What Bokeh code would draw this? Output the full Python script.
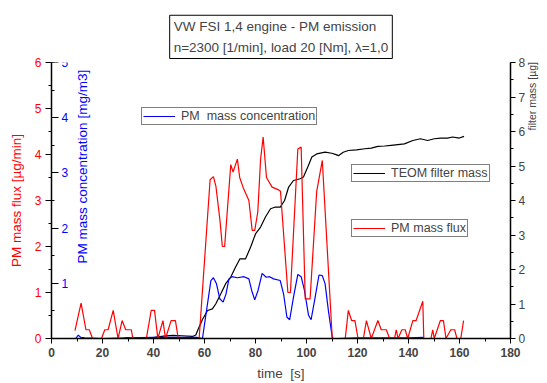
import math
from bokeh.plotting import figure
from bokeh.models import Range1d, LinearAxis, Legend, LegendItem, SingleIntervalTicker, Label
from bokeh.embed import file_html
from bokeh.resources import INLINE

# ---- data ----
t_flux = [9.2, 11.6, 13.5, 14.8, 16.1, 19.6, 20.9, 22.2, 24.2, 26.1, 27.7, 29.1, 31.3, 31.9,
          37.2, 39.1, 40.4, 41.7, 43.7, 44.7, 46.9, 48.6, 49.7, 57.9, 62.2, 63.5, 64.5, 66.0,
          67.0, 67.9, 70.3, 71.2, 72.9, 73.8, 75.1, 77.4, 78.7, 79.7, 80.9, 82.0, 83.0, 84.3,
          86.5, 89.1, 89.8, 92.7, 93.7, 96.6, 97.9, 99.5, 101.4, 104.0, 106.2, 110.1, 115.2,
          116.4, 117.7, 119.0, 120.2, 122.3, 123.5, 125.4, 128.0, 129.3, 131.3, 132.6, 134.5,
          135.2, 135.9, 137.4, 138.7, 139.7, 141.7, 143.0, 145.6, 146.0, 148.8, 149.5, 150.1,
          152.5, 153.7, 154.7, 156.6, 158.1, 159.0, 160.5, 161.6]
flux = [0.17, 0.77, 0.19, 0.19, 0.0, 0.0, 0.19, 0.19, 0.61, 0.0, 0.39, 0.19, 0.19, 0.0,
        0.0, 0.61, 0.61, 0.0, 0.39, 0.0, 0.39, 0.39, 0.0, 0.0, 3.45, 3.52, 3.3, 2.6,
        2.0, 2.0, 3.78, 3.62, 3.9, 3.5, 3.29, 3.0, 2.35, 2.35, 2.75, 3.9, 4.38, 3.5,
        3.29, 3.23, 3.2, 1.0, 1.0, 4.12, 4.16, 0.86, 0.86, 3.2, 3.87, 0.0, 0.0,
        0.61, 0.39, 0.39, 0.0, 0.0, 0.39, 0.0, 0.39, 0.19, 0.19, 0.0, 0.0,
        0.19, 0.0, 0.19, 0.19, 0.0, 0.39, 0.39, 0.81, 0.0, 0.0, 0.19, 0.0,
        0.39, 0.39, 0.0, 0.19, 0.19, 0.0, 0.0, 0.39]

t_conc = [9.5, 10.5, 11.5, 13.0, 20.0, 30.0, 40.0, 50.0, 57.0, 59.2, 62.5, 63.5, 64.7, 66.0,
          67.3, 68.4, 69.6, 70.7, 72.9, 75.5, 77.4, 78.5, 79.7, 81.0, 82.6, 84.2, 85.5, 87.1,
          89.7, 91.0, 92.3, 93.4, 94.9, 96.6, 97.9, 99.2, 100.8, 101.8, 103.4, 104.9, 106.2,
          107.3, 108.6, 110.1, 111.0, 112.0, 120.0, 130.0, 140.0, 146.0]
conc = [0.0, 0.06, 0.02, 0.01, 0.0, 0.01, 0.02, 0.02, 0.02, 0.0, 1.05, 1.1, 0.99, 0.72,
        0.66, 0.8, 1.08, 1.12, 1.1, 1.12, 1.08, 0.87, 0.7, 0.87, 1.18, 1.11, 1.12, 1.08,
        1.05, 0.81, 0.39, 0.34, 0.75, 1.16, 1.12, 0.87, 0.42, 0.34, 0.75, 1.15, 1.14,
        0.99, 0.5, 0.02, -0.02, 0.0, 0.01, 0.01, 0.01, 0.02]

t_mass = [9.2, 12.5, 16.0, 19.6, 22.0, 25.5, 29.8, 33.3, 38.0, 41.0, 44.0, 47.5, 51.0, 55.3,
          56.6, 57.3, 59.2, 61.2, 63.1, 64.4, 66.4, 68.3, 70.3, 72.2, 73.9, 76.1, 78.1, 80.0,
          82.0, 83.9, 85.9, 87.8, 89.7, 91.4, 93.0, 94.9, 97.5, 98.8, 100.5, 102.1, 104.0,
          107.3, 109.9, 111.6, 112.5, 114.4, 116.4, 119.6, 122.9, 125.4, 128.0, 130.6, 133.2,
          135.8, 138.4, 141.7, 144.7, 147.5, 150.1, 152.7, 155.3, 157.3, 159.9, 161.8]
mass = [-0.05, -0.03, -0.08, -0.12, -0.1, -0.05, 0.03, -0.04, 0.0, 0.04, 0.07, 0.09, 0.08, 0.06,
        0.1, 0.23, 0.55, 0.81, 0.86, 1.0, 1.3, 1.59, 1.78, 2.07, 2.31, 2.31, 2.65, 3.03,
        3.23, 3.52, 3.76, 3.81, 3.81, 4.0, 4.39, 4.58, 4.63, 4.68, 4.97, 5.26, 5.35,
        5.4, 5.37, 5.33, 5.3, 5.4, 5.45, 5.47, 5.5, 5.52, 5.57, 5.58, 5.6,
        5.62, 5.64, 5.74, 5.79, 5.74, 5.79, 5.81, 5.81, 5.84, 5.81, 5.86]

title_text = "VW FSI 1,4 engine - PM emission\nn=2300 [1/min], load 20 [Nm], \u03bb=1,0"
label_flux = "PM mass flux"
label_conc = "PM  mass concentration"
label_mass = "TEOM filter mass"
title_flux = "PM mass flux [\u00b5g/min]"
title_conc = "PM mass concentration [mg/m3]"
title_mass = "filter mass [\u00b5g]"
title_time = "time\u00a0 [s]"

FONT = "Liberation Sans"
NB = "\u00a0"

p = figure(width=547, height=383, output_backend="svg", toolbar_location=None,
           x_range=Range1d(0, 180), y_range=Range1d(0, 6),
           min_border_left=51, min_border_right=34, min_border_top=62, min_border_bottom=45,
           title=title_text)
p.extra_y_ranges = {"conc": Range1d(0, 5), "mass": Range1d(0, 8)}
p.grid.visible = False
p.outline_line_color = None

# title box
p.title.align = "center"
p.title.text_font = FONT
p.title.text_font_size = "13.5px"
p.title.text_font_style = "normal"
p.title.text_line_height = 1.35
p.title.border_line_color = "black"
p.title.border_line_width = 1
p.title.background_fill_color = "white"
p.title.padding = 4
p.title.offset = -5
p.title.standoff = 8

# x axis
xa = p.xaxis[0]
xa.ticker = SingleIntervalTicker(interval=20, num_minor_ticks=2)
xa.axis_label = title_time
xa.axis_label_text_font = FONT
xa.axis_label_text_font_size = "13.5px"
xa.axis_label_text_font_style = "normal"
xa.axis_label_standoff = 6
xa.major_label_text_font = FONT
xa.major_label_text_font_size = "12px"
xa.major_label_text_font_style = "bold"
xa.major_label_standoff = 4
xa.axis_line_width = 1.5
xa.major_tick_in = 0
xa.major_tick_out = 5
xa.minor_tick_in = 0
xa.minor_tick_out = 3

# red (left) axis
ya = p.yaxis[0]
ya.ticker = SingleIntervalTicker(interval=1, num_minor_ticks=2)
ya.axis_label = title_flux
ya.axis_label_text_color = "#ff0000"
ya.axis_label_text_font = FONT
ya.axis_label_text_font_size = "13.5px"
ya.axis_label_text_font_style = "normal"
ya.axis_label_text_align = "left"
ya.axis_label_standoff = 8
ya.major_label_text_color = "#ff0000"
ya.major_label_text_font = FONT
ya.major_label_text_font_size = "12px"
ya.major_label_standoff = 4
ya.axis_line_width = 1.5
ya.major_tick_in = 0
ya.major_tick_out = 6
ya.minor_tick_in = 0
ya.minor_tick_out = 3

# blue axis, drawn at x=0 with ticks and labels pointing into the plot
ba = LinearAxis(y_range_name="conc", fixed_location=0,
                ticker=SingleIntervalTicker(interval=1, num_minor_ticks=2))
ba.axis_line_color = None
ba.major_label_overrides = {0: ""}
ba.major_label_text_color = "#0000ff"
ba.major_label_text_font = FONT
ba.major_label_text_font_size = "12px"
ba.major_label_standoff = 3
ba.major_tick_in = 0
ba.major_tick_out = 7
ba.minor_tick_in = 0
ba.minor_tick_out = 3

# black (right) axis
ra = LinearAxis(y_range_name="mass",
                ticker=SingleIntervalTicker(interval=1, num_minor_ticks=2),
                axis_label=NB * 24 + title_mass)
ra.axis_label_text_font = FONT
ra.axis_label_text_font_size = "10.5px"
ra.axis_label_text_font_style = "normal"
ra.axis_label_standoff = 4
ra.axis_label_orientation = math.pi / 2
ra.axis_label_text_align = "left"
ra.major_label_text_font = FONT
ra.major_label_text_font_size = "12px"
ra.major_label_standoff = 3
ra.axis_line_width = 1.5
ra.major_tick_in = 0
ra.major_tick_out = 5
ra.minor_tick_in = 0
ra.minor_tick_out = 3
p.add_layout(ra, "right")
p.add_layout(ba, "right")

# title of the blue axis, written upward inside the plot next to its labels
conc_title = Label(x=12.0, y=1.36, y_range_name="conc", text=title_conc,
                   angle=90, angle_units="deg", text_align="left", text_baseline="middle",
                   text_color="#0000ff", text_font=FONT, text_font_size="13.5px")
p.add_layout(conc_title)

r_mass = p.line(t_mass, mass, line_color="black", line_width=1.2, y_range_name="mass")
r_conc = p.line(t_conc, conc, line_color="#0000ff", line_width=1.2, y_range_name="conc")
r_flux = p.line(t_flux, flux, line_color="#ff0000", line_width=1.2)


def add_legend(text, rend, loc):
    leg = Legend(items=[LegendItem(label=text, renderers=[rend])], location=loc,
                 border_line_color="black", border_line_width=1,
                 background_fill_color="white", background_fill_alpha=1.0,
                 padding=1, margin=0, spacing=0, glyph_width=32, glyph_height=12,
                 label_height=12, label_standoff=6, label_text_font=FONT,
                 label_text_font_size="12.5px")
    p.add_layout(leg, "center")


add_legend(label_conc, r_conc, (90, 213))
add_legend(label_mass, r_mass, (300, 156))
add_legend(label_flux, r_flux, (300, 101))

open("out.html", "w").write(file_html(p, INLINE))
